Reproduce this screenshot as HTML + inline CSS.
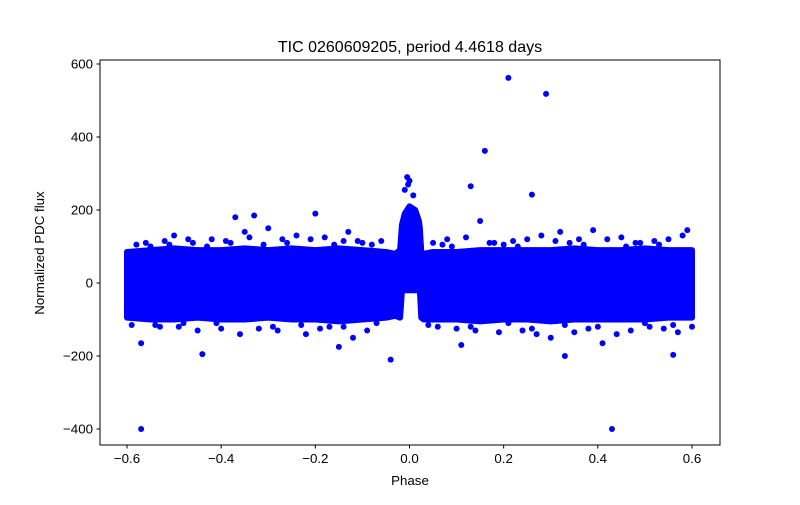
<!DOCTYPE html>
<html><head><meta charset="utf-8"><style>
body{margin:0;background:#fff;}
svg text{font-family:"Liberation Sans","DejaVu Sans",sans-serif;}
</style></head><body>
<svg id="chart" width="800" height="500" xmlns="http://www.w3.org/2000/svg">
<rect width="800" height="500" fill="#fff"/>
<text x="410" y="52" font-size="16" text-anchor="middle">TIC 0260609205, period 4.4618 days</text>
<g id="plot"></g>
<rect x="100" y="60" width="620" height="385" fill="none" stroke="#000" stroke-width="1"/>
<g id="axes"></g>
<text x="410" y="485" font-size="13.3" text-anchor="middle">Phase</text>
<text x="0" y="0" font-size="13.3" text-anchor="middle" transform="translate(44,253) rotate(-90)">Normalized PDC flux</text>
</svg>
<script>
const xTicks=[-0.6,-0.4,-0.2,0.0,0.2,0.4,0.6];
const xTickLabels=["\u22120.6","\u22120.4","\u22120.2","0.0","0.2","0.4","0.6"];
const yTicks=[-400,-200,0,200,400,600];
const yTickLabels=["\u2212400","\u2212200","0","200","400","600"];
// dense band envelope (phase, upper, lower)
const bandPhase=[-0.6,-0.55,-0.5,-0.45,-0.4,-0.35,-0.3,-0.25,-0.2,-0.15,-0.1,-0.05,-0.03,-0.02,-0.016,-0.01,0.0,0.012,0.02,0.022,0.025,0.03,0.05,0.1,0.15,0.2,0.25,0.3,0.35,0.4,0.45,0.5,0.55,0.6];
const bandUpper=[85,90,95,90,90,95,90,95,90,95,90,85,80,90,160,190,210,200,170,150,85,80,85,85,90,90,90,90,95,90,90,95,90,90];
const bandLower=[-95,-100,-100,-95,-100,-100,-95,-100,-100,-105,-100,-95,-90,-95,-20,-20,-20,-20,-20,-20,-95,-100,-100,-100,-105,-100,-100,-105,-100,-100,-100,-100,-95,-95];
// outlier / fringe points
const ptPhase=[-0.57,0.43,0.21,0.29,0.16,0.13,0.26,-0.44,-0.57,-0.04,0.33,0.56,0.41,0.11,-0.15,0.15,-0.33,-0.2,-0.37,-0.005,0.0,-0.003,-0.01,0.008,-0.58,-0.55,-0.52,-0.5,-0.46,-0.42,-0.38,-0.35,-0.3,-0.27,-0.24,-0.18,-0.13,-0.11,-0.08,-0.06,0.05,0.08,0.12,0.18,0.22,0.25,0.28,0.32,0.36,0.39,0.45,0.48,0.52,0.55,0.58,0.59,-0.59,-0.53,-0.48,-0.45,-0.4,-0.36,-0.32,-0.28,-0.22,-0.17,-0.12,-0.09,-0.07,0.06,0.1,0.14,0.19,0.24,0.27,0.3,0.35,0.38,0.44,0.47,0.51,0.54,0.57,0.6,-0.56,-0.51,-0.47,-0.43,-0.39,-0.34,-0.31,-0.26,-0.21,-0.16,-0.14,-0.1,0.07,0.09,0.17,0.2,0.23,0.31,0.34,0.37,0.42,0.46,0.49,0.53,-0.54,-0.49,-0.41,-0.29,-0.23,-0.19,-0.14,0.04,0.13,0.21,0.26,0.33,0.4,0.5,0.56];
const ptFlux=[-400,-400,562,518,362,265,242,-195,-165,-210,-200,-197,-165,-170,-175,170,185,190,180,290,280,270,255,240,105,100,115,130,110,120,110,140,150,120,130,125,140,115,105,115,110,120,125,110,115,120,130,140,120,145,125,110,115,120,130,145,-115,-120,-110,-130,-125,-140,-125,-130,-140,-120,-150,-130,-110,-120,-125,-130,-135,-130,-140,-150,-135,-125,-140,-130,-120,-125,-135,-120,110,105,120,100,115,125,105,110,120,105,115,110,105,100,110,105,100,115,110,105,120,100,110,105,-115,-120,-110,-120,-115,-125,-120,-115,-120,-110,-125,-115,-120,-110,-115];
const X0=-0.6,X1=0.6,PX0=127,PX1=692;
const Y0=0,Y1=200,PY0=283,PY1=210;
const xs=v=>PX0+(v-X0)/(X1-X0)*(PX1-PX0);
const ys=v=>PY0+(v-Y0)/(Y1-Y0)*(PY1-PY0);
const NS="http://www.w3.org/2000/svg";
const plot=document.getElementById('plot'),axes=document.getElementById('axes');
let d="";
bandPhase.forEach((p,i)=>{d+=(i?"L":"M")+xs(p)+","+ys(bandUpper[i]);});
for(let i=bandPhase.length-1;i>=0;i--)d+="L"+xs(bandPhase[i])+","+ys(bandLower[i]);
d+="Z";
const band=document.createElementNS(NS,'path');
band.setAttribute('d',d);band.setAttribute('fill','#0000ff');band.setAttribute('stroke','#0000ff');
band.setAttribute('stroke-width','6');band.setAttribute('stroke-linejoin','round');


plot.appendChild(band);
ptPhase.forEach((p,i)=>{
 const c=document.createElementNS(NS,'circle');
 c.setAttribute('cx',xs(p));c.setAttribute('cy',ys(ptFlux[i]));c.setAttribute('r','3');c.setAttribute('fill','#0000ff');
 
 
 plot.appendChild(c);
});
xTicks.forEach((t,i)=>{
 const x=xs(t);
 const l=document.createElementNS(NS,'line');
 l.setAttribute('x1',x);l.setAttribute('x2',x);l.setAttribute('y1',445);l.setAttribute('y2',448.5);l.setAttribute('stroke','#000');
 
 
 axes.appendChild(l);
 const tx=document.createElementNS(NS,'text');
 tx.setAttribute('x',x);tx.setAttribute('y',463);tx.setAttribute('font-size','13.3');tx.setAttribute('text-anchor','middle');
 tx.textContent=xTickLabels[i];
 
 
 axes.appendChild(tx);
});
yTicks.forEach((t,i)=>{
 const y=ys(t);
 const l=document.createElementNS(NS,'line');
 l.setAttribute('x1',96.5);l.setAttribute('x2',100);l.setAttribute('y1',y);l.setAttribute('y2',y);l.setAttribute('stroke','#000');
 
 
 axes.appendChild(l);
 const tx=document.createElementNS(NS,'text');
 tx.setAttribute('x',93);tx.setAttribute('y',y+4.5);tx.setAttribute('font-size','13.3');tx.setAttribute('text-anchor','end');
 tx.textContent=yTickLabels[i];
 
 
 axes.appendChild(tx);
});
</script>
</body></html>
